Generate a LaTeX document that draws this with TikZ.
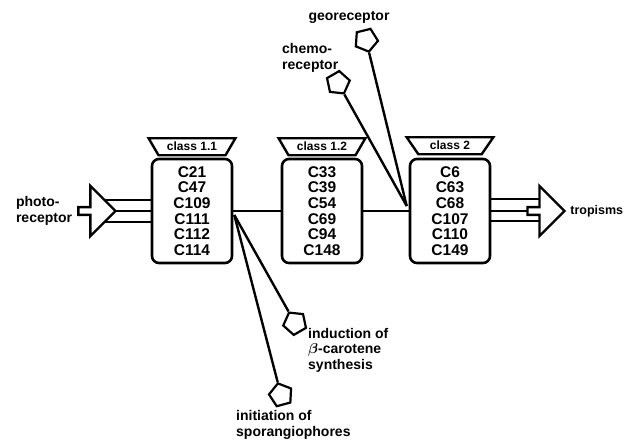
\documentclass[tikz,border=0pt]{standalone}
\usepackage{amsmath}
\usepackage{bm}
\usepackage{fontspec}
\setmainfont{Liberation Sans}
\usepackage{tikz}
\usetikzlibrary{shapes,shapes.geometric,shapes.arrows,calc,positioning}
\usetikzlibrary{backgrounds}
\tikzset{>=latex}
\tikzset{
  mutbox/.style={draw, line width=2.6pt, rounded corners=7pt, minimum width=80pt, minimum height=104pt, align=center, inner sep=0pt, font=\fontsize{15.5}{15.6}\selectfont\bfseries},
  classcap/.style={draw, line width=2.4pt, trapezium, trapezium stretches=true, shape border rotate=180, trapezium angle=50, minimum width=87pt, minimum height=17pt, inner sep=0pt, font=\fontsize{12}{12}\selectfont\bfseries},
  fatarrow/.style={draw, line width=2.4pt, fill=white, single arrow, single arrow head extend=6.5pt, minimum height=37pt, minimum width=50pt, inner sep=0pt},
  receptor/.style={draw, line width=2.2pt, fill=white, regular polygon, regular polygon sides=5, minimum size=24pt, inner sep=0pt},
  wire/.style={line width=2.4pt},
  lbl/.style={font=\fontsize{14}{15.5}\selectfont\bfseries, align=left, inner sep=0pt}
}

\begin{document}
\begin{tikzpicture}[x=1pt,y=-1pt]
\useasboundingbox (0,0) rectangle (626,441);
\node[mutbox] (box1) at (192,211) {C21\\C47\\C109\\C111\\C112\\C114};
\node[mutbox] (box2) at (322,211) {C33\\C39\\C54\\C69\\C94\\C148};
\node[mutbox] (box3) at (450,211) {C6\\C63\\C68\\C107\\C110\\C149};
\node[classcap] (cap1) at ($(box1.north)+(0,-11)$) {class 1.1};
\node[classcap] (cap2) at ($(box2.north)+(0,-11)$) {class 1.2};
\node[classcap] (cap3) at ($(box3.north)+(0,-12)$) {class 2};

\node[fatarrow] (photoArrow) at (95,211) {};
\node[fatarrow] (tropArrow) at (544,211) {};
\node[lbl, left=5pt of photoArrow] (photoLbl) {photo-\\receptor};
\node[lbl, right=4pt of tropArrow, font=\fontsize{12.5}{14}\selectfont\bfseries] (tropLbl) {tropisms};

\node[receptor, rotate=-166] (geoRec) at (366,40) {};
\node[receptor, rotate=-150] (chemRec) at (338,83) {};
\node[receptor, rotate=30] (indRec) at (295,323) {};
\node[receptor, rotate=15] (iniRec) at (281,395) {};
\coordinate (fan1) at ($(box1.east)+(1,4)$);
\coordinate (fan3) at ($(box3.west)+(-2,-5)$);

\node[lbl] (geoLbl) at (349,17) {georeceptor};
\node[lbl, anchor=west] (chemLbl) at (282,58) {chemo-\\receptor};
\node[lbl, anchor=west] (indLbl) at (308,350) {induction of\\$\bm{\beta}$-carotene\\synthesis};
\node[lbl, anchor=west] (iniLbl) at (236,425) {initiation of\\sporangiophores};

\begin{scope}[on background layer]
\foreach \dy in {-11,0,11}
  \draw[wire] ($(box1.west)+(0,\dy)$) -- ($(photoArrow.center)+(0,\dy)$);
\foreach \dy in {-12,0,10}
  \draw[wire] ($(box3.east)+(0,\dy)$) -- ($(tropArrow.center)+(0,\dy)$);
\end{scope}
\draw[wire] (box1.east) -- (box2.west);
\draw[wire] (box2.east) -- (box3.west);
\draw[wire] (fan1) -- (indRec);
\draw[wire] (fan1) -- (iniRec);
\draw[wire] (geoRec) -- (fan3);
\draw[wire] (chemRec) -- (fan3);
\end{tikzpicture}
\end{document}
